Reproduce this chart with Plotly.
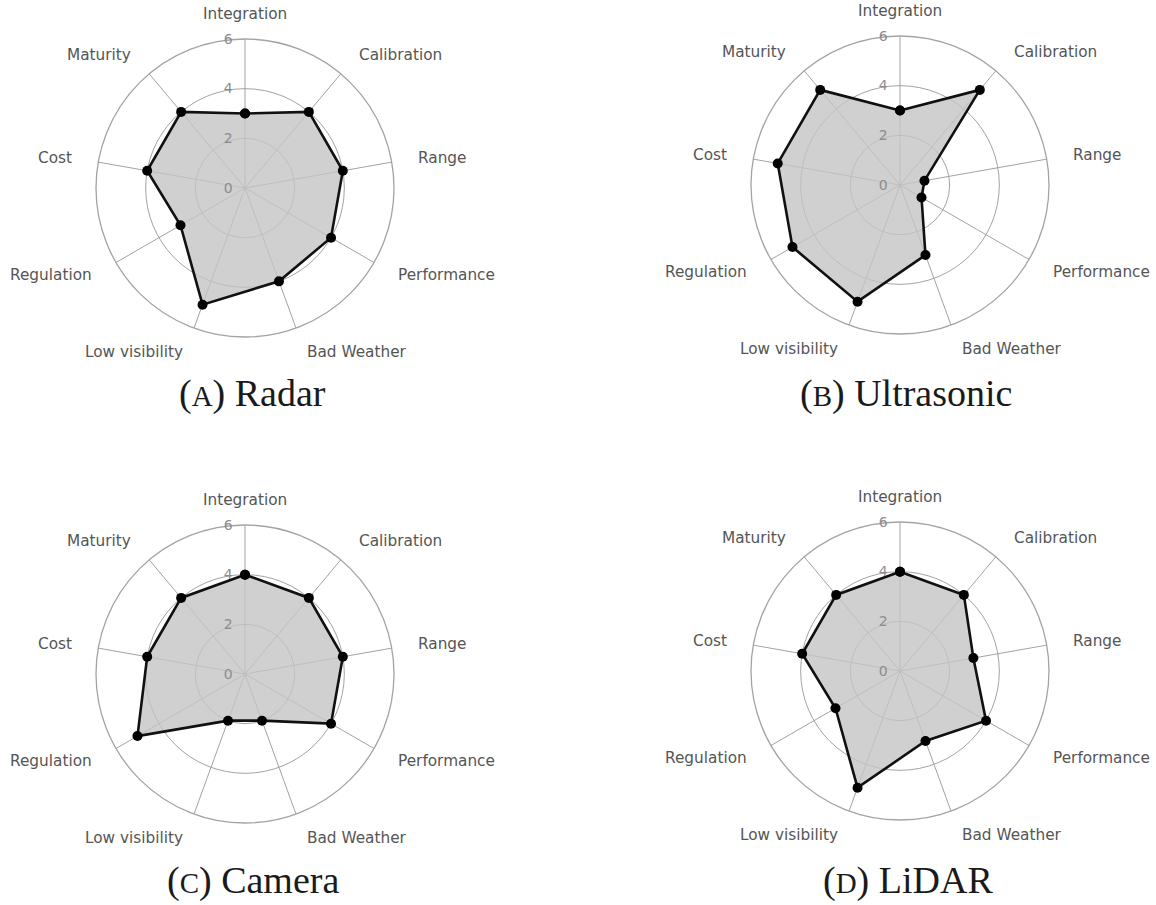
import math
import plotly.graph_objects as go

categories = ["Integration", "Calibration", "Range", "Performance", "Bad Weather",
              "Low visibility", "Regulation", "Cost", "Maturity"]

radar_vals = [3, 4, 4, 4, 4, 5, 3, 4, 4]
ultrasonic_vals = [3, 5, 1, 1, 3, 5, 5, 5, 5]
camera_vals = [4, 4, 4, 4, 2, 2, 5, 4, 4]
lidar_vals = [4, 4, 3, 4, 3, 5, 3, 4, 4]

caption_letters = ["A", "B", "C", "D"]
caption_names = ["Radar", "Ultrasonic", "Camera", "LiDAR"]
radial_ticks = [0, 2, 4, 6]

# ---- layout constants (pixels) ----
W, H = 1156, 905
R = 149            # outer radius of each polar plot
LABEL_R = 174      # distance of category label anchor from centre
centers = [(245, 188), (900, 185), (245, 674), (900, 671)]
caption_pos = [(252, 393), (906, 393), (253, 880), (908, 880)]
series = [radar_vals, ultrasonic_vals, camera_vals, lidar_vals]

fig = go.Figure()
grid = "#a3a3a3"
n = len(categories)

for i, vals in enumerate(series):
    pname = "polar" if i == 0 else f"polar{i+1}"
    fig.add_trace(go.Scatterpolar(
        r=vals + vals[:1],
        theta=categories + categories[:1],
        mode="lines+markers",
        fill="toself",
        fillcolor="rgba(196,196,196,0.8)",
        line=dict(color="#111111", width=2.6),
        marker=dict(color="#000000", size=10),
        subplot=pname,
        showlegend=False,
        hoverinfo="skip",
    ))
    cx, cy = centers[i]
    dom = dict(x=[(cx - R) / W, (cx + R) / W],
               y=[1 - (cy + R) / H, 1 - (cy - R) / H])
    fig.update_layout(**{pname: dict(
        domain=dom,
        bgcolor="white",
        radialaxis=dict(range=[0, 6], tickvals=radial_ticks, angle=90,
                        side="counterclockwise", showline=False, tickangle=90,
                        gridcolor=grid, gridwidth=1.3,
                        ticks="outside", ticklen=7, tickcolor="rgba(0,0,0,0)",
                        tickfont=dict(family="DejaVu Sans", size=14, color="#8c8c8c")),
        angularaxis=dict(rotation=90, direction="clockwise",
                         categoryorder="array", categoryarray=categories,
                         showline=True, linecolor=grid, linewidth=1.3,
                         gridcolor=grid, gridwidth=1.3,
                         ticks="", showticklabels=False),
    )})
    # category labels placed around the circle (same geometry as the polar axis)
    for k, cat in enumerate(categories):
        a = 2 * math.pi * k / n
        sx, cyy = math.sin(a), math.cos(a)
        px = cx + LABEL_R * sx
        py = cy - LABEL_R * cyy
        if abs(sx) < 0.1:
            xa = "center"
        elif sx > 0:
            xa = "left"
        else:
            xa = "right"
        fig.add_annotation(
            x=px / W, y=1 - py / H, xref="paper", yref="paper",
            xanchor=xa, yanchor="middle", showarrow=False, text=cat,
            font=dict(family="DejaVu Sans", size=15.3, color="#555555"),
        )
    x, y = caption_pos[i]
    fig.add_annotation(
        x=x / W, y=1 - y / H, xref="paper", yref="paper",
        xanchor="center", yanchor="middle", showarrow=False,
        text=f"(<span style='font-size:29px'>{caption_letters[i]}</span>) {caption_names[i]}",
        font=dict(family="Liberation Serif", size=38, color="#1a1a1a"),
    )

fig.update_layout(width=W, height=H, margin=dict(l=0, r=0, t=0, b=0),
                  paper_bgcolor="white", plot_bgcolor="white")

fig.write_html("out.html", config={"displayModeBar": False},
               post_script="document.body.style.margin='0px';")
